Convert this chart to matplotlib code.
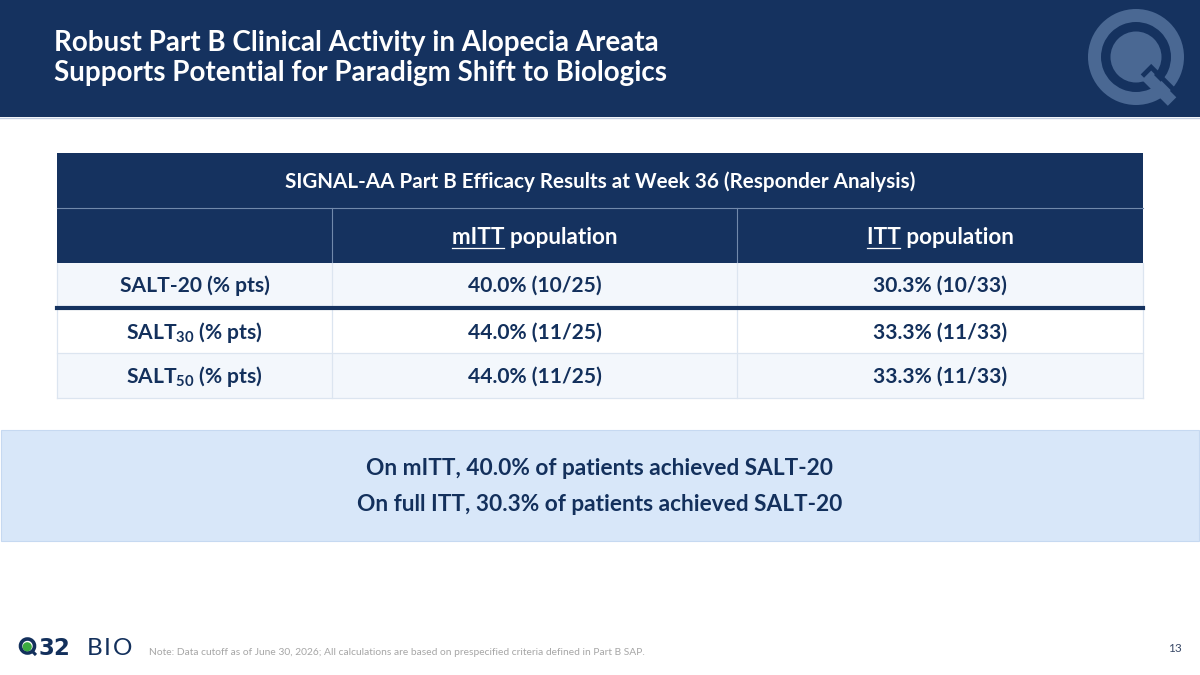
import matplotlib
matplotlib.use("Agg")
import matplotlib.pyplot as plt
from matplotlib.patches import Rectangle, Circle, Wedge, Polygon
import numpy as np

# ---------------- data ----------------
slide_title = ["Robust Part B Clinical Activity in Alopecia Areata",
               "Supports Potential for Paradigm Shift to Biologics"]
table_title = "SIGNAL-AA Part B Efficacy Results at Week 36 (Responder Analysis)"
population_labels = ["mITT", "ITT"]
population_suffix = " population"
endpoint_base = ["SALT-20", "SALT", "SALT"]
endpoint_sub = ["", "30", "50"]
endpoint_suffix = " (% pts)"
mitt_pct = [40.0, 44.0, 44.0]
mitt_resp = [10, 11, 11]
mitt_total = 25
itt_pct = [30.3, 33.3, 33.3]
itt_resp = [10, 11, 11]
itt_total = 33
summary_lines = ["On mITT, 40.0% of patients achieved SALT-20",
                 "On full ITT, 30.3% of patients achieved SALT-20"]
footnote = ("Note: Data cutoff as of June 30, 2026; All calculations are based on "
            "prespecified criteria defined in Part B SAP.")
page_number = "13"
logo_bold = "32"
logo_light = "BIO"

# ---------------- style ----------------
FONT = "Lato"
plt.rcParams['font.family'] = [FONT, 'DejaVu Sans']
plt.rcParams['mathtext.fontset'] = 'custom'
plt.rcParams['mathtext.rm'] = 'Lato:bold'
plt.rcParams['mathtext.bf'] = 'Lato:bold'
plt.rcParams['mathtext.it'] = 'Lato:bold'

W, H = 1200, 675
NAVY = "#15325F"
TEXT_NAVY = "#13305C"
Q_LIGHT = "#4A6893"
ROW_LIGHT = "#F3F7FC"
GRID = "#DCE5F0"
HEAD_LINE = "#7189AB"
BOX = "#D8E7F9"
BOX_EDGE = "#C6D9F1"
BUMP = 1.01

fig = plt.figure(figsize=(12, 6.75), dpi=100)
fig.patch.set_facecolor("white")
ax = fig.add_axes([0, 0, 1, 1])
ax.set_xlim(0, W)
ax.set_ylim(H, 0)
ax.axis("off")
renderer = fig.canvas.get_renderer()


def text_width(s, size, weight="bold", family=None):
    kw = {} if family is None else {"family": family}
    t = ax.text(0, 100, s, fontsize=size, fontweight=weight, **kw)
    w = t.get_window_extent(renderer).width
    t.remove()
    return w


def fit(s, target, weight="bold"):
    return BUMP * 20.0 * target / text_width(s, 20.0, weight)


def tracked(x, y, s, size, weight, color, tracking, family=None):
    kw = {} if family is None else {"family": family}
    for ch in s:
        ax.text(x, y, ch, fontsize=size, fontweight=weight, color=color,
                ha="left", va="baseline", zorder=5, **kw)
        x += text_width(ch, size, weight, family) + tracking


# ---------------- header band ----------------
ax.add_patch(Rectangle((0, 0), W, 117, fc=NAVY, ec="none", zorder=1))
ax.plot([0, W], [117.5, 117.5], color="#C2CFE1", lw=1.0, zorder=2)

# decorative Q mark
qc = np.array([1136.0, 57.0])
ax.add_patch(Wedge(tuple(qc), 48, 0, 360, width=13, fc=Q_LIGHT, ec="none", zorder=2))
ax.add_patch(Circle(tuple(qc), 25.5, fc=Q_LIGHT, ec="none", zorder=2))
u = np.array([1.0, 1.0]) / np.sqrt(2)
n = np.array([1.0, -1.0]) / np.sqrt(2)
tail = [qc + u * 15, qc + u * 57, qc + u * 57 - n * 12, qc + u * 15 - n * 12]
ax.add_patch(Polygon(tail, closed=True, fc=Q_LIGHT, ec="none", zorder=2))
lpts = np.array([qc + u * 18 - n * 9, qc + u * 18 + n * 3.5, qc + u * 58 + n * 3.5])
ax.plot(lpts[:, 0], lpts[:, 1], color=NAVY, lw=3.4, solid_capstyle="butt",
        solid_joinstyle="miter", zorder=3)

title_size = fit(slide_title[0], 597)
for i, line in enumerate(slide_title):
    ax.text(54, 51 + 29.5 * i, line, fontsize=title_size, fontweight="bold",
            color="white", ha="left", va="baseline", zorder=5)

# ---------------- table ----------------
col_x = [57, 332, 737, 1143]
tx0, tx1 = col_x[0], col_x[-1]
row_y = [(263, 306), (310, 353), (353, 398)]
row_fc = [ROW_LIGHT, "white", ROW_LIGHT]

ax.add_patch(Rectangle((tx0, 153), tx1 - tx0, 110, fc=NAVY, ec="none", zorder=1))
ax.plot([tx0, tx1], [208, 208], color=HEAD_LINE, lw=0.8, zorder=2)
for xv in col_x[1:3]:
    ax.plot([xv, xv], [208, 263], color=HEAD_LINE, lw=0.8, zorder=2)

for (ya, yb), fc in zip(row_y, row_fc):
    ax.add_patch(Rectangle((tx0, ya), tx1 - tx0, yb - ya, fc=fc, ec="none", zorder=1))
for xv in col_x:
    ax.plot([xv, xv], [263, 398], color=GRID, lw=0.9, zorder=2)
for yv in [353, 398]:
    ax.plot([tx0, tx1], [yv, yv], color=GRID, lw=0.9, zorder=2)
ax.plot([tx0, tx1], [308, 308], color=NAVY, lw=3.0, zorder=3)

tt_size = fit(table_title, 622)
ax.text((tx0 + tx1) / 2, 188, table_title, fontsize=tt_size, fontweight="bold",
        color="white", ha="center", va="baseline", zorder=5)

head_size = fit(population_labels[0] + population_suffix, 164)
for j, lab in enumerate(population_labels):
    cx = (col_x[j + 1] + col_x[j + 2]) / 2
    ax.text(cx, 244, lab + population_suffix, fontsize=head_size,
            fontweight="bold", color="white", ha="center", va="baseline", zorder=5)
    full_w = text_width(lab + population_suffix, head_size)
    lab_w = text_width(lab, head_size)
    left = cx - full_w / 2
    ax.plot([left, left + lab_w], [247.5, 247.5], color="white", lw=0.9, zorder=5)

body_size = fit("40.0% (10/25)", 133)
for i, (ya, yb) in enumerate(row_y):
    base_y = (ya + yb) / 2 + 7.5
    if endpoint_sub[i]:
        lab = endpoint_base[i] + "$_{" + endpoint_sub[i] + "}$" + endpoint_suffix
    else:
        lab = endpoint_base[i] + endpoint_suffix
    ax.text((col_x[0] + col_x[1]) / 2, base_y, lab, fontsize=body_size,
            fontweight="bold", color=TEXT_NAVY, ha="center", va="baseline", zorder=5)
    mtxt = f"{mitt_pct[i]:.1f}% ({mitt_resp[i]}/{mitt_total})"
    itxt = f"{itt_pct[i]:.1f}% ({itt_resp[i]}/{itt_total})"
    ax.text((col_x[1] + col_x[2]) / 2, base_y, mtxt, fontsize=body_size,
            fontweight="bold", color=TEXT_NAVY, ha="center", va="baseline", zorder=5)
    ax.text((col_x[2] + col_x[3]) / 2, base_y, itxt, fontsize=body_size,
            fontweight="bold", color=TEXT_NAVY, ha="center", va="baseline", zorder=5)

# ---------------- summary box ----------------
ax.add_patch(Rectangle((0.5, 430), W - 1.5, 111, fc=BOX, ec=BOX_EDGE, lw=0.8, zorder=1))
box_size = fit(summary_lines[1], 480)
for i, line in enumerate(summary_lines):
    ax.text(600, 475 + 36 * i, line, fontsize=box_size, fontweight="bold",
            color=TEXT_NAVY, ha="center", va="baseline", zorder=5)

# ---------------- footer ----------------
lc = np.array([27.5, 646.0])
ax.add_patch(Wedge(tuple(lc), 8.8, 0, 360, width=3.6, fc=TEXT_NAVY, ec="none", zorder=4))
ax.add_patch(Circle((27.2, 646.8), 4.6, fc="#3BAA3F", ec="none", zorder=4))
ax.plot([32.0, 36.0], [651.0, 655.0], color=TEXT_NAVY, lw=2.2, zorder=4,
        solid_capstyle="butt")
tracked(38, 655, logo_bold, 16.5, "bold", TEXT_NAVY, -1.0, family="DejaVu Sans")
tracked(87, 655, logo_light, 17.5, "normal", TEXT_NAVY, 1.5)

note_size = fit(footnote, 498, weight="normal") / BUMP
ax.text(149, 655, footnote, fontsize=note_size, fontweight="normal",
        color="#A6A6A6", ha="left", va="baseline", zorder=5)
ax.text(1175, 652, page_number, fontsize=8.5, color="#3A4A68",
        ha="center", va="baseline", zorder=5)

fig.savefig("out.png", dpi=100, facecolor="white")
